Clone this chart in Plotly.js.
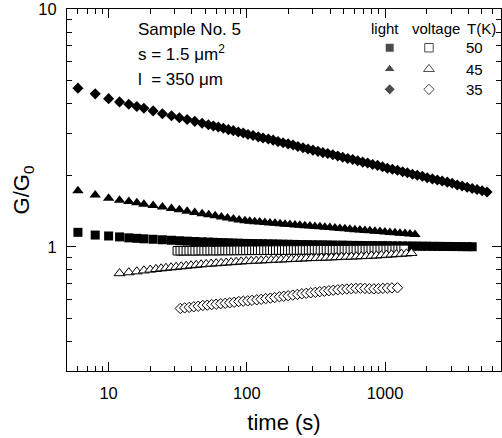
<!DOCTYPE html>
<html><head><meta charset="utf-8">
<script src="https://cdn.plot.ly/plotly-3.0.1.min.js"></script>
<style>html,body{margin:0;padding:0;background:#fff;} #chart{width:502px;height:438px;}</style>
</head><body><div id="chart"></div>
<script>
// ---- data ----
const tLight50 = [6,8,10,12,14,16,18,21,24.5,28.5,32.5,37,42,47.5,52.7,57.3,62.2,67.6,73.5,79.8,86.7,94.2,102,111,121,131,143,155,168,183,199,216,234,255,277,301,327,355,385,419,455,494,537,583,634,689,748,813,883,959,1040,1130,1230,1340,1450,1580,1710,1860,2020,2200,2390,2590,2820,3060,3330,3610,3930,4270];
const gLight50 = [1.15,1.12,1.11,1.10,1.09,1.085,1.08,1.075,1.07,1.065,1.06,1.056,1.052,1.049,1.046,1.044,1.042,1.04,1.038,1.036,1.035,1.033,1.032,1.031,1.03,1.029,1.028,1.027,1.026,1.025,1.024,1.023,1.022,1.021,1.02,1.019,1.018,1.018,1.017,1.016,1.015,1.015,1.014,1.013,1.013,1.012,1.011,1.011,1.01,1.01,1.009,1.008,1.008,1.007,1.007,1.006,1.006,1.005,1.005,1.004,1.004,1.003,1.003,1.002,1.002,1.001,1.001,1.0];

const tLight45 = [6,8,10,12,14,16,18,21,24.5,28.5,32.5,37,42,47.5,53,59,65.5,72.5,80,88,97,105,114,124,135,147,160,174,189,205,223,242,263,286,311,338,367,399,434,471,512,557,605,658,715,777,845,918,998,1085,1180,1282,1394,1515,1647];
const gLight45 = [1.72,1.65,1.60,1.57,1.55,1.53,1.51,1.49,1.47,1.447,1.43,1.41,1.393,1.377,1.363,1.349,1.335,1.322,1.309,1.297,1.285,1.28,1.275,1.27,1.265,1.26,1.255,1.25,1.245,1.24,1.236,1.231,1.227,1.222,1.217,1.213,1.208,1.204,1.199,1.194,1.19,1.185,1.18,1.176,1.171,1.167,1.163,1.158,1.153,1.149,1.145,1.14,1.136,1.132,1.127];

const tLight35 = [6,8,10,12,14,16,18,21,24.5,28.5,32.5,37,42,47.5,52.7,57.3,62.2,67.6,73.5,79.8,86.7,94.2,102,111,121,131,143,155,168,183,199,216,234,255,277,301,327,355,385,419,455,494,537,583,634,689,748,813,883,959,1040,1130,1230,1340,1450,1580,1710,1860,2020,2200,2390,2590,2820,3060,3330,3610,3930,4270,4630,5040,5470];
const gLight35 = [4.65,4.40,4.20,4.07,3.98,3.89,3.83,3.73,3.63,3.56,3.49,3.43,3.37,3.31,3.26,3.22,3.19,3.15,3.11,3.08,3.04,3.01,2.97,2.94,2.90,2.87,2.84,2.81,2.77,2.74,2.71,2.68,2.64,2.61,2.58,2.55,2.52,2.49,2.47,2.44,2.41,2.38,2.35,2.33,2.30,2.27,2.25,2.22,2.20,2.17,2.14,2.12,2.10,2.07,2.05,2.02,2.00,1.98,1.95,1.93,1.91,1.89,1.87,1.85,1.82,1.80,1.78,1.76,1.74,1.72,1.70];

const tVolt50 = [31.4,33.0,34.7,36.5,38.3,40.3,42.3,44.5,46.8,49.1,51.6,54.3,57.0,59.9,63.0,66.2,69.6,73.1,76.8,80.8,84.9,89.2,93.8,98.5,103.6,108.8,114.4,120,126,133,140,147,154,162,170,179,188,198,208,218,229,241,253,266,280,294,309,325,341,359,377,396,417,438,460,484,508,534,561,590,620,652,685,720,757,795,836,878,923,970,1020,1072,1126,1184,1244,1307,1374];
const gVolt50 = [0.962,0.962,0.963,0.962,0.963,0.963,0.962,0.963,0.964,0.963,0.963,0.964,0.964,0.963,0.964,0.964,0.965,0.964,0.965,0.965,0.965,0.966,0.965,0.966,0.966,0.966,0.967,0.966,0.967,0.967,0.967,0.968,0.967,0.968,0.968,0.968,0.969,0.968,0.969,0.969,0.969,0.969,0.970,0.969,0.970,0.970,0.970,0.971,0.970,0.971,0.971,0.971,0.971,0.972,0.971,0.972,0.972,0.972,0.972,0.973,0.972,0.973,0.973,0.973,0.973,0.974,0.973,0.974,0.974,0.974,0.974,0.975,0.974,0.975,0.975,0.975,0.975];

const tVolt45 = [12,14,16,18,20,22,24,26,28.3,30.8,33.5,36.4,39.5,43,46.7,50.8,55.2,60,65.2,70.9,77,83.7,91,99,107.6,117,127,138,150,163,177,193,210,228,248,269,293,318,346,376,409,444,483,525,571,620,674,733,797,866,941,1023,1112,1209,1314,1428,1553];
const gVolt45 = [0.773,0.780,0.787,0.794,0.800,0.805,0.810,0.814,0.818,0.822,0.826,0.830,0.834,0.838,0.842,0.845,0.848,0.851,0.854,0.857,0.860,0.863,0.866,0.869,0.871,0.873,0.875,0.877,0.879,0.881,0.883,0.885,0.887,0.889,0.891,0.893,0.895,0.896,0.898,0.899,0.901,0.903,0.905,0.907,0.908,0.910,0.912,0.914,0.916,0.918,0.921,0.924,0.927,0.930,0.933,0.936,0.940];

const tVolt35 = [33,35.5,38.3,41.3,44.5,48,51.7,55.7,60,64.7,69.8,75.2,81,87.4,94.2,101.5,109,118,127,137,148,159,172,185,199,215,232,250,269,290,313,337,364,392,422,455,491,529,570,615,663,714,770,830,895,965,1040,1121,1230];
const gVolt35 = [0.550,0.553,0.556,0.559,0.562,0.566,0.568,0.571,0.573,0.576,0.578,0.581,0.584,0.588,0.590,0.592,0.595,0.598,0.601,0.605,0.608,0.611,0.616,0.619,0.622,0.626,0.630,0.634,0.637,0.640,0.643,0.647,0.650,0.653,0.656,0.659,0.662,0.664,0.666,0.668,0.669,0.668,0.666,0.665,0.666,0.668,0.670,0.671,0.672];

const legendHeaders = ['light', 'voltage', 'T(K)'];
const legendTemps = ['50', '45', '35'];
const legendSymbols = ['square', 'triangle-up', 'diamond'];
const sampleLines = ['Sample No. 5', 's = 1.5 \u03bcm<sup>2</sup>', 'l\u00a0 = 350 \u03bcm'];

const xTickVals = [10, 100, 1000];
const xTickText = ['10', '100', '1000'];
const xMinorVals = [6,7,8,9,20,30,40,50,60,70,80,90,200,300,400,500,600,700,800,900,2000,3000,4000,5000,6000];
const yTickVals = [1, 10];
const yTickText = ['1', '10'];
const yMinorVals = [0.3,0.4,0.5,0.6,0.7,0.8,0.9,2,3,4,5,6,7,8,9];

// ---- chart ----
const FONT = 'Liberation Sans, Arial, sans-serif';
const X_RANGE = [Math.log10(5), Math.log10(6900)];
const Y_RANGE = [Math.log10(0.3), 1.0005];
const sizes = {square: 9, 'triangle-up': 10, diamond: 8.5};
function filled(t, g, sym) {
  return {x: t, y: g, type: 'scatter', mode: 'markers', cliponaxis: false,
    marker: {symbol: sym, size: sizes[sym], color: '#000', line: {width: 0}}, showlegend: false, hoverinfo: 'skip'};
}
function open(t, g, sym) {
  return {x: t, y: g, type: 'scatter', mode: 'markers', cliponaxis: false,
    marker: {symbol: sym, size: sizes[sym] - 0.5, color: '#fff', line: {width: 1, color: '#000'}}, showlegend: false, hoverinfo: 'skip'};
}
const traces = [
  {x: [], y: [], xaxis: 'x3', yaxis: 'y3', type: 'scatter', mode: 'markers', showlegend: false, hoverinfo: 'skip'},
  filled(tLight50, gLight50, 'square'),
  filled(tLight45, gLight45, 'triangle-up'),
  filled(tLight35, gLight35, 'diamond'),
  open(tVolt50, gVolt50, 'square'),
  open(tVolt45, gVolt45, 'triangle-up'),
  open(tVolt35, gVolt35, 'diamond')
];
// legend key markers (on a hidden 0..1 overlay axis)
const legRowY = [0.893, 0.834, 0.778];
traces.push({x: legendSymbols.map(() => 0.7435), y: legRowY, xaxis: 'x2', yaxis: 'y2', type: 'scatter', mode: 'markers',
  marker: {symbol: legendSymbols, size: legendSymbols.map(s => sizes[s]), color: '#000'}, showlegend: false, hoverinfo: 'skip'});
traces.push({x: legendSymbols.map(() => 0.834), y: legRowY, xaxis: 'x2', yaxis: 'y2', type: 'scatter', mode: 'markers',
  marker: {symbol: legendSymbols, size: legendSymbols.map(s => sizes[s] - 0.5), color: '#fff', line: {width: 1, color: '#000'}}, showlegend: false, hoverinfo: 'skip'});

const annotations = [];
const sampleY = [0.942, 0.878, 0.806];
sampleLines.forEach((s, i) => annotations.push({xref: 'paper', yref: 'paper', x: 0.159, y: sampleY[i], xanchor: 'left', yanchor: 'middle',
  text: s, showarrow: false, font: {family: FONT, size: 17, color: '#000'}}));
const headX = [0.733, 0.851, 0.954];
legendHeaders.forEach((s, i) => annotations.push({xref: 'paper', yref: 'paper', x: headX[i], y: 0.946, xanchor: 'center', yanchor: 'middle',
  text: s, showarrow: false, font: {family: FONT, size: 15, color: '#000'}}));
legendTemps.forEach((s, i) => annotations.push({xref: 'paper', yref: 'paper', x: 0.940, y: legRowY[i], xanchor: 'center', yanchor: 'middle',
  text: s, showarrow: false, font: {family: FONT, size: 15, color: '#000'}}));

const axisCommon = {showgrid: false, zeroline: false, showline: true, linecolor: '#000', linewidth: 1, mirror: 'ticks',
  ticks: 'inside', ticklen: 9, tickwidth: 1, tickcolor: '#000', ticklabeloverflow: 'allow',
  tickfont: {family: FONT, size: 16.5, color: '#000'}};
const minorCommon = {showgrid: false, zeroline: false, showline: false, mirror: 'ticks', ticks: 'inside', ticklen: 5,
  tickwidth: 1, tickcolor: '#000', showticklabels: false, tickmode: 'array', type: 'log', fixedrange: true};

const layout = {
  width: 502, height: 438,
  margin: {l: 67, r: 1, t: 9, b: 67},
  paper_bgcolor: '#fff', plot_bgcolor: '#fff',
  font: {family: FONT, color: '#000'},
  showlegend: false,
  xaxis: Object.assign({}, axisCommon, {type: 'log', range: X_RANGE,
    tickmode: 'array', tickvals: xTickVals, ticktext: xTickText, ticklabelstandoff: 7,
    title: {text: 'time (s)', font: {family: FONT, size: 22, color: '#000'}, standoff: 13}}),
  yaxis: Object.assign({}, axisCommon, {type: 'log', range: Y_RANGE,
    tickmode: 'array', tickvals: yTickVals, ticktext: yTickText, ticklabelstandoff: 6,
    title: {text: 'G/G<sub>0</sub>', font: {family: FONT, size: 22, color: '#000'}, standoff: 2}}),
  xaxis2: {overlaying: 'x', range: [0, 1], visible: false, fixedrange: true},
  yaxis2: {overlaying: 'y', range: [0, 1], visible: false, fixedrange: true},
  xaxis3: Object.assign({}, minorCommon, {overlaying: 'x', side: 'bottom', range: X_RANGE, tickvals: xMinorVals}),
  yaxis3: Object.assign({}, minorCommon, {overlaying: 'y', side: 'left', range: Y_RANGE, tickvals: yMinorVals}),
  annotations: annotations
};
Plotly.newPlot('chart', traces, layout, {staticPlot: true, displayModeBar: false});
</script>
</body></html>
